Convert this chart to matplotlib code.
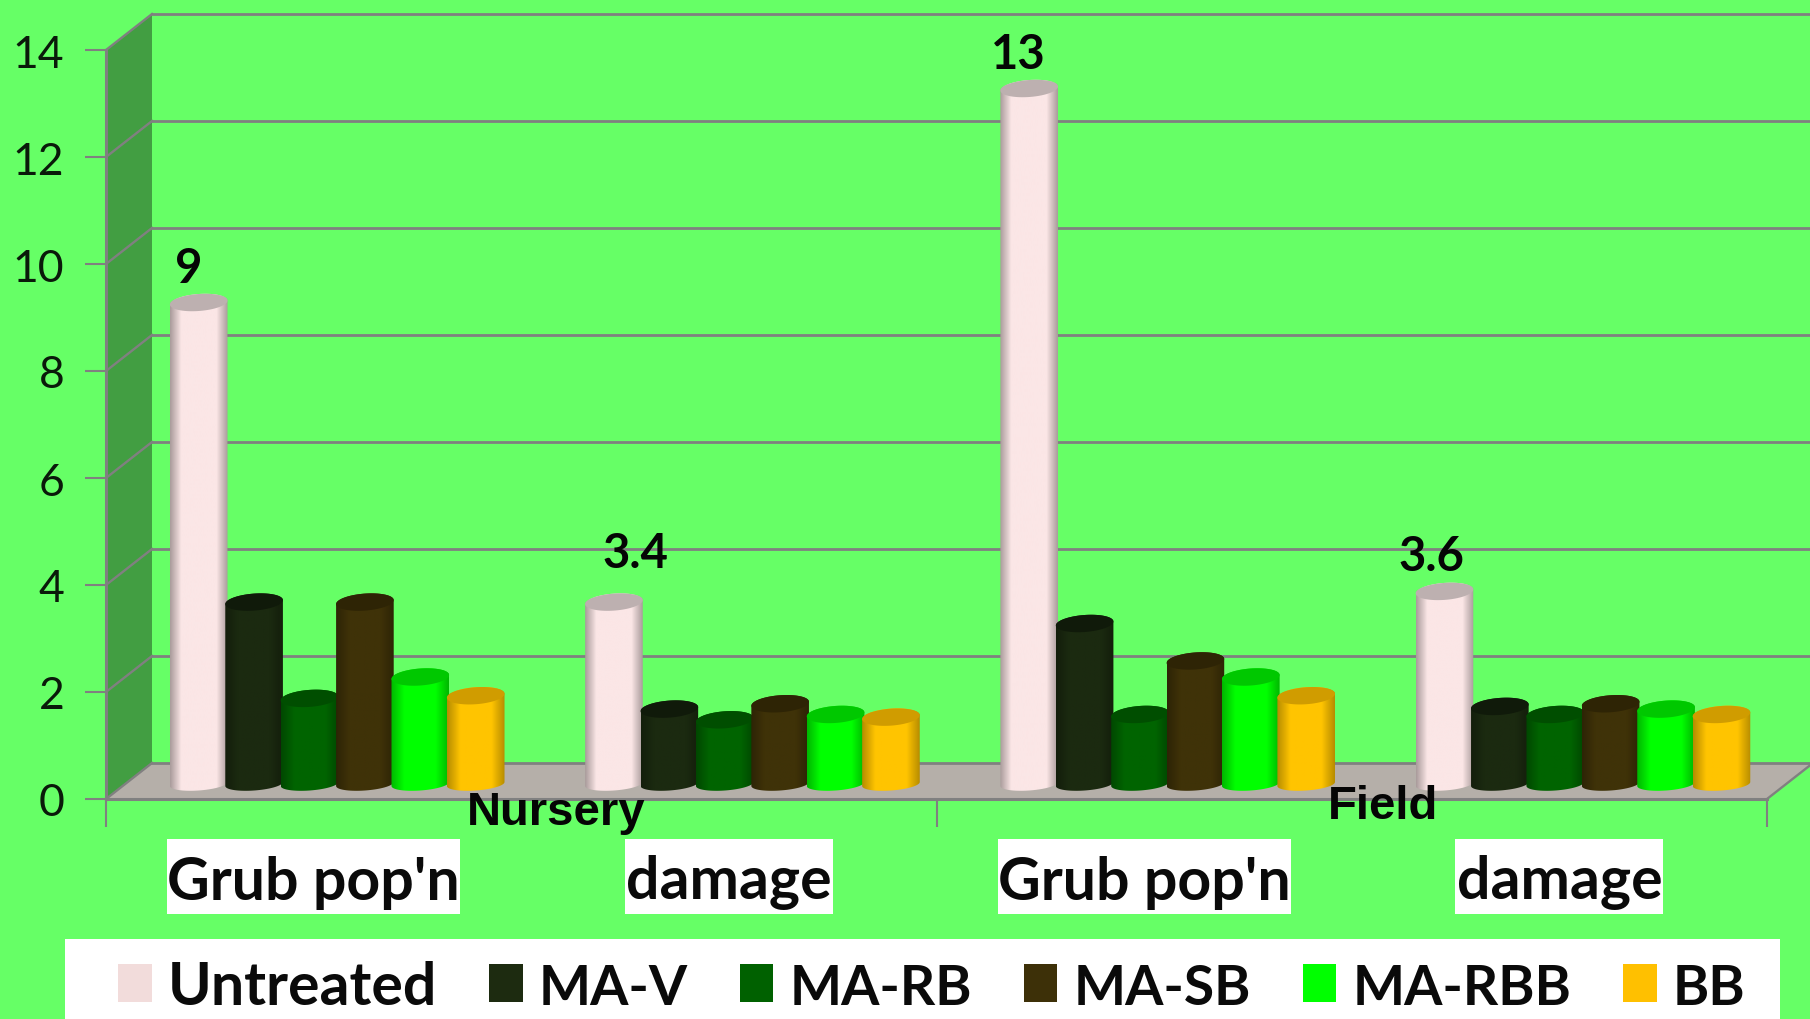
import numpy as np
import matplotlib
matplotlib.use('Agg')
import matplotlib.pyplot as plt
from matplotlib.patches import Polygon, Patch, Rectangle
from matplotlib.colors import to_rgb

categories = ["Grub pop'n", "damage", "Grub pop'n", "damage"]
series_names = ['Untreated', 'MA-V', 'MA-RB', 'MA-SB', 'MA-RBB', 'BB']
untreated = [9, 3.4, 13, 3.6]
ma_v = [3.4, 1.4, 3.0, 1.45]
ma_rb = [1.6, 1.2, 1.3, 1.3]
ma_sb = [3.4, 1.5, 2.3, 1.5]
ma_rbb = [2.0, 1.3, 2.0, 1.4]
bb = [1.65, 1.25, 1.65, 1.3]
series_values = [untreated, ma_v, ma_rb, ma_sb, ma_rbb, bb]
colors = ['#FBE6E6', '#1B2A10', '#006400', '#3F3208', '#00FF00', '#FFC400']
legend_colors = ['#F2DCDB', '#1D2B10', '#006100', '#3D3008', '#00FF00', '#FFC000']
top_colors = ['#BDB0B0', '#101A0A', '#004E00', '#2E2405', '#00C800', '#D09C00']
y_ticks = [0, 2, 4, 6, 8, 10, 12, 14]
group_names = ['Nursery', 'Field']

BG = '#66FF66'
WALL = '#429E42'
FLOOR = '#B5AFA9'
GRID = '#808080'
W, H = 1810, 1020

fig = plt.figure(figsize=(W / 100, H / 100), dpi=100, facecolor=BG)
# front plane of the fake 3d box, in pixels: x 106-1767, y 51-800
ax = fig.add_axes([106 / W, 1 - 800 / H, (1767 - 106) / W, (800 - 51) / H], facecolor='none')
ax.set_xlim(0, 4)
ax.set_ylim(0, 14)

px_x = 4 / (1767 - 106)
px_y = 14 / (800 - 51)
dx = 46 * px_x
dy = 36 * px_y

# side wall and floor
ax.add_patch(Polygon([(0, 0), (dx, dy), (dx, 14 + dy), (0, 14)], fc=WALL, ec='none', clip_on=False, zorder=1))
ax.add_patch(Polygon([(0, 0), (dx, dy), (4 + dx, dy), (4, 0)], fc=FLOOR, ec='none', clip_on=False, zorder=1))

for v in y_ticks:
    ax.plot([0, dx], [v, v + dy], color=GRID, lw=1.7, clip_on=False, zorder=2)
    ax.plot([dx, 4 + dx], [v + dy, v + dy], color=GRID, lw=2, clip_on=False, zorder=2)
ax.plot([4, 4 + dx], [0, dy], color=GRID, lw=1.7, clip_on=False, zorder=2)

# cylinders
bar_w = 55.4 * px_x
start = 65 * px_x
base = 15 * px_y
rx = 0.52 * bar_w
ry = 8.5 * px_y
ry_low = 6.5 * px_y
tilt = 2 * px_y
t = np.linspace(0, np.pi, 40)

for s, vals in enumerate(series_values):
    rgb = np.array(to_rgb(colors[s]))
    u = np.linspace(-1, 1, 64)
    if s == 0:
        shade = 0.68 + 0.32 * np.clip((1 - np.abs(u)) * 2.6, 0, 1)
    else:
        shade = 0.72 + 0.28 * np.clip((1 - np.abs(u)) * 2.2, 0, 1)
    grad = (shade[:, None] * rgb)[None, :, :]
    for g, v in enumerate(vals):
        cx = g + start + (s + 0.5) * bar_w
        top = base + v
        ex = cx + rx * np.cos(t)
        side = tilt * np.cos(t)
        # body outline: bottom half ellipse then up and over the top one
        body_x = np.concatenate([ex[::-1], ex])
        body_y = np.concatenate([base + side[::-1] - ry_low * np.sin(t)[::-1], top + side + ry * np.sin(t)])
        clip = Polygon(np.column_stack([body_x, body_y]), transform=ax.transData, fc='none', ec='none')
        ax.add_patch(clip)
        im = ax.imshow(grad, extent=[cx - rx, cx + rx, base - ry - tilt, top + ry + tilt], aspect='auto',
                       zorder=3 + s * 0.1, interpolation='bilinear')
        im.set_clip_path(clip)
        tt = np.linspace(0, 2 * np.pi, 80)
        ax.add_patch(Polygon(np.column_stack([cx + rx * np.cos(tt), top + tilt * np.cos(tt) + ry * np.sin(tt)]),
                             fc=top_colors[s], ec='none', zorder=3 + s * 0.1 + 0.01, clip_on=False))

ax.set_xlim(0, 4)
ax.set_ylim(0, 14)

# axes
for name in ['top', 'right']:
    ax.spines[name].set_visible(False)
for name in ['left', 'bottom']:
    ax.spines[name].set_color(GRID)
    ax.spines[name].set_linewidth(2.2)
    ax.spines[name].set_zorder(2.5)
ax.set_yticks(y_ticks)
ax.set_xticks([0, 2, 4])
ax.set_xticklabels([])
ax.tick_params(axis='y', length=15, width=1.5, color=GRID, labelsize=32, labelcolor='#0A1A0A', pad=15)
ax.tick_params(axis='x', length=20, width=1.5, color=GRID)
for lab in ax.get_yticklabels():
    lab.set_family('Lato')

# value labels, they sit loosely above the bars in the original
label_x = [0.198, 1.276, 2.197, 3.193]
label_y = [9.93, 4.6, 13.92, 4.55]
for g, v in enumerate(untreated):
    ax.text(label_x[g], label_y[g], f'{v:g}', ha='center', va='center',
            family='Lato', weight='bold', fontsize=34, color='#050505', zorder=6)

# white boxes under the category names
box_px = [293, 208, 293, 208]
for g, name in enumerate(categories):
    w = box_px[g] * px_x
    ax.add_patch(Rectangle((g + 0.5 - w / 2, -115 * px_y), w, 75 * px_y, fc='white', ec='none',
                           clip_on=False, zorder=5))
    ax.text(g + 0.5, -1.55, name, ha='center', va='center', family='Lato', weight='bold', fontsize=42.5,
            color='#0A0A0A', zorder=6)

ax.text(1.083, -0.24, group_names[0], ha='center', va='center', family='Liberation Sans', weight='bold',
        fontsize=34, color='#050505', zorder=6)
ax.text(3.075, -0.13, group_names[1], ha='center', va='center', family='Liberation Sans', weight='bold',
        fontsize=34, color='#050505', zorder=6)

# white strip behind the legend
fig.add_artist(Rectangle((65 / W, 0), (1780 - 65) / W, 80 / H, transform=fig.transFigure, fc='white', ec='none', zorder=1))

handles = [Patch(fc=c, ec='none') for c in legend_colors]
leg = fig.legend(handles, series_names, loc='lower left', bbox_to_anchor=(118 / W, 5 / H), ncol=6, frameon=False,
                 borderaxespad=0, borderpad=0,
                 prop={'family': 'Lato', 'weight': 'bold', 'size': 42.5},
                 handlelength=0.57, handleheight=0.62, handletextpad=0.27, columnspacing=0.88)
for i, txt in enumerate(leg.get_texts()):
    txt.set_color('#0A0A0A')
    # capitals run wider in this font than in the original
    if i > 0:
        txt.set_fontsize(39.7)

fig.savefig('out.png', dpi=100, facecolor=BG)
